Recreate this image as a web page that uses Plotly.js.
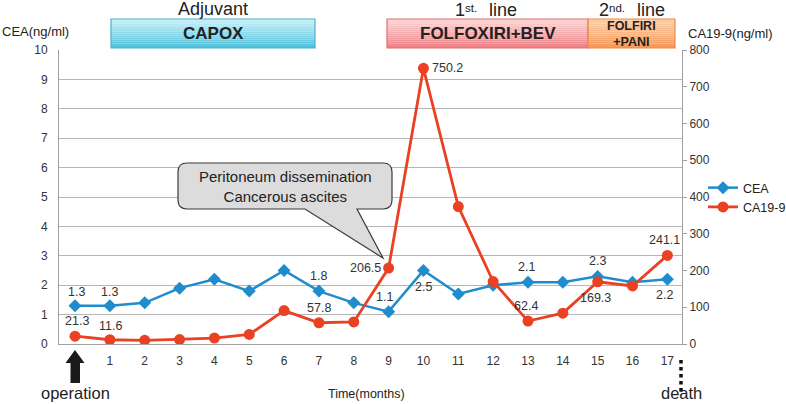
<!DOCTYPE html>
<html>
<head>
<meta charset="utf-8">
<script src="https://cdn.plot.ly/plotly-3.0.1.min.js"></script>
<style>html,body{margin:0;padding:0;background:#fff;}#chart{width:786px;height:404px;}</style>
</head>
<body>
<div id="chart"></div>
<script>
// ---- data ----
const months = [0,1,2,3,4,5,6,7,8,9,10,11,12,13,14,15,16,17];
const cea = [1.3,1.3,1.4,1.9,2.2,1.8,2.5,1.8,1.4,1.1,2.5,1.7,2.0,2.1,2.1,2.3,2.1,2.2];
const ca199 = [21.3,11.6,10,12,16,26,91,57.8,60,206.5,750.2,374,170,62.4,84,169.3,158,241.1];
const xTickVals = [1,2,3,4,5,6,7,8,9,10,11,12,13,14,15,16,17];
const xTickText = ['1','2','3','4','5','6','7','8','9','10','11','12','13','14','15','16','17'];
const ceaLabelIdx = [0,1,7,9,10,13,15,17];
const caLabelIdx = [0,1,7,9,10,13,15,17];
const regimenNames = ['CAPOX', 'FOLFOXIRI+BEV', 'FOLFIRI<br>+PANI'];
const phaseLabels = ['Adjuvant', null, null];
const lineNum = [null, '1', '2'];
const lineSuffix = [null, 'st.', 'nd.'];
const lineWord = 'line';

// ---- styling ----
const FONT = 'Liberation Sans, Arial, sans-serif';
const BLUE = '#1e8ccd', RED = '#eb4123';
const M = {l:59, r:104, t:50, b:60, autoexpand:false};
const W = 786, H = 404;
const PW = W - M.l - M.r, PH = H - M.t - M.b;
const px = x => (x - M.l) / PW;
const py = y => (H - M.b - y) / PH;

// label offsets [dx, dy] in px (dy positive = down)
const ceaOff = {0:[1,-14],1:[0,-14],7:[0,-15],9:[-4,-15],10:[0,16],13:[-1,-15],15:[0,-15],17:[-3,16]};
const caOff  = {0:[2,-15],1:[1,-14],7:[0,-15],9:[-23,0],10:[24,0],13:[-2,-15],15:[-2,16],17:[-3,-15]};

const traces = [
  {x: months, y: cea, name:'CEA', type:'scatter', mode:'lines+markers',
   line:{color:BLUE, width:2.5}, marker:{symbol:'diamond', size:10, color:BLUE}, yaxis:'y'},
  {x: months, y: ca199, name:'CA19-9', type:'scatter', mode:'lines+markers',
   line:{color:RED, width:2.8}, marker:{symbol:'circle', size:11, color:RED}, yaxis:'y2'}
];

const annotations = [];
ceaLabelIdx.forEach(i => {
  const o = ceaOff[i];
  annotations.push({x: months[i], y: cea[i], xref:'x', yref:'y', text: cea[i].toFixed(1),
    showarrow:false, xshift:o[0], yshift:-o[1], font:{family:FONT, size:12.5, color:'#333'}});
});
caLabelIdx.forEach(i => {
  const o = caOff[i];
  annotations.push({x: months[i], y: ca199[i], xref:'x', yref:'y2', text: ca199[i].toFixed(1),
    showarrow:false, xshift:o[0], yshift:-o[1], font:{family:FONT, size:12.5, color:'#333'}});
});

function txt(text, x, y, size, opts) {
  annotations.push(Object.assign({text, x:px(x), y:py(y), xref:'paper', yref:'paper', showarrow:false,
    xanchor:'center', yanchor:'middle', font:{family:FONT, size, color:'#222'}}, opts||{}));
}

// regimen boxes
const boxes = [
  {x0:111, x1:315, c0:[200,238,246], c1:[80,194,220], line:'#47b3cf'},
  {x0:387, x1:588, c0:[251,212,212], c1:[238,128,134], line:'#e07070'},
  {x0:588, x1:675, c0:[252,206,168], c1:[246,152,88], line:'#ef8a44'}
];
const shapes = [];
const N = 14, BT = 19, BB = 48;
boxes.forEach(b => {
  for (let k = 0; k < N; k++) {
    const t = k/(N-1);
    const c = b.c0.map((v,j) => Math.round(v + (b.c1[j]-v)*t));
    shapes.push({type:'rect', xref:'paper', yref:'paper', layer:'above',
      x0:px(b.x0), x1:px(b.x1), y0:py(BT + (BB-BT)*k/N), y1:py(BT + (BB-BT)*(k+1)/N),
      fillcolor:`rgb(${c.join(',')})`, line:{width:0}});
  }
  shapes.push({type:'rect', xref:'paper', yref:'paper', layer:'above',
    x0:px(b.x0), x1:px(b.x1), y0:py(BB), y1:py(BT), line:{color:b.line, width:1.2}, fillcolor:'rgba(0,0,0,0)'});
});
// heading positions: [num right edge, word left edge]
const headPos = [null, [467, 487], [611, 635]];
regimenNames.forEach((name, i) => {
  const cx = (boxes[i].x0 + boxes[i].x1)/2;
  if (phaseLabels[i]) txt(phaseLabels[i], cx, 9, 18);
  if (lineNum[i]) {
    txt(lineNum[i], headPos[i][0], 9.5, 18, {xanchor:'right'});
    txt(lineSuffix[i], headPos[i][0] - 4, 7.5, 11.5, {xanchor:'left'});
    txt(lineWord, headPos[i][1], 9.5, 18, {xanchor:'left'});
  }
  if (i < 2) txt('<b>'+name+'</b>', cx, 34, 17);
  else txt('<b>'+name+'</b>', cx, 34, 12.5);
});

// axis unit titles
txt('CEA(ng/ml)', 0, 32, 13, {xanchor:'left'});
txt('CA19-9(ng/ml)', 686, 33, 13, {xanchor:'left'});
txt('Time(months)', 366, 394, 12.5);
txt('operation', 75, 393, 16.5);
txt('death', 681, 393, 16.5);

// callout bubble
const bx0=178, bx1=392, by0=163, by1=209, r=9;
const P = (x,y) => `${px(x)},${py(y)}`;
const bubble = `M ${P(bx0+r,by0)} L ${P(bx1-r,by0)} Q ${P(bx1,by0)} ${P(bx1,by0+r)} L ${P(bx1,by1-r)} Q ${P(bx1,by1)} ${P(bx1-r,by1)} ` +
  `L ${P(357,by1)} L ${P(383,258)} L ${P(305,by1)} L ${P(bx0+r,by1)} Q ${P(bx0,by1)} ${P(bx0,by1-r)} L ${P(bx0,by0+r)} Q ${P(bx0,by0)} ${P(bx0+r,by0)} Z`;
shapes.push({type:'path', xref:'paper', yref:'paper', layer:'above', path:bubble,
  fillcolor:'#dcdcdc', line:{color:'#3a3a3a', width:1.2}});
txt('Peritoneum dissemination<br>Cancerous ascites', 285, 186, 15);

// operation arrow
const arrow = `M ${P(65.5,363)} L ${P(75,350)} L ${P(84.5,363)} L ${P(80,363)} L ${P(80,383)} L ${P(70.5,383)} L ${P(70.5,363)} Z`;
shapes.push({type:'path', xref:'paper', yref:'paper', path:arrow, fillcolor:'#1a1a1a', line:{width:0}});
// death dotted line
shapes.push({type:'line', xref:'paper', yref:'paper', x0:px(681), x1:px(681), y0:py(360), y1:py(392),
  line:{color:'#111', width:3.5, dash:'dot'}});

const layout = {
  width:W, height:H, margin:M, paper_bgcolor:'#fff', plot_bgcolor:'#fff',
  font:{family:FONT, size:12, color:'#333'},
  showlegend:true,
  legend:{x:px(703), y:py(173), xanchor:'left', yanchor:'top', font:{family:FONT, size:12.5, color:'#222'},
    bgcolor:'rgba(0,0,0,0)', itemwidth:30, tracegroupgap:0},
  xaxis:{range:[-0.46,17.42], tickvals:xTickVals, ticktext:xTickText, showgrid:false, zeroline:false,
    showline:true, linecolor:'#a0a0a0', linewidth:1, ticks:'outside', ticklen:6, tickcolor:'rgba(0,0,0,0)',
    tickfont:{family:FONT, size:12, color:'#333'}, fixedrange:true},
  yaxis:{range:[0,10], dtick:1, showgrid:true, gridcolor:'#b5b5b5', gridwidth:1, zeroline:false,
    showline:true, linecolor:'#a0a0a0', ticks:'outside', ticklen:8, tickcolor:'rgba(0,0,0,0)',
    tickfont:{family:FONT, size:12, color:'#333'}},
  yaxis2:{range:[0,800], dtick:100, overlaying:'y', side:'right', showgrid:false, zeroline:false,
    showline:true, linecolor:'#a0a0a0', ticks:'outside', ticklen:4, tickcolor:'#a0a0a0',
    tickfont:{family:FONT, size:12, color:'#333'}},
  annotations, shapes
};
Plotly.newPlot('chart', traces, layout, {displayModeBar:false, staticPlot:true});
</script>
</body>
</html>
